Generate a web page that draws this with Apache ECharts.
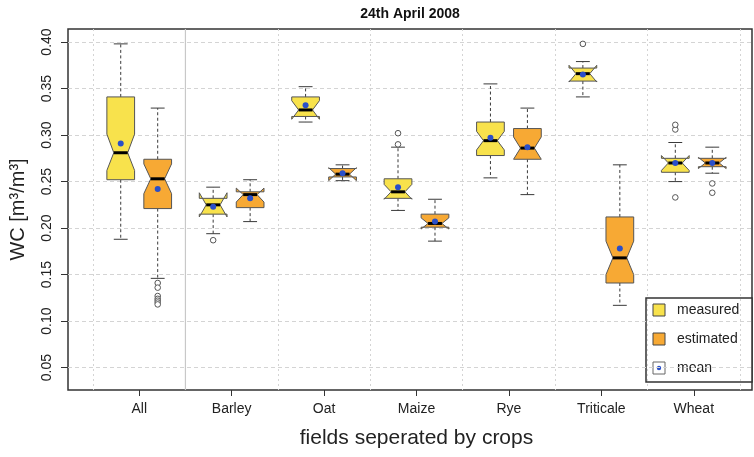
<!DOCTYPE html>
<html>
<head>
<meta charset="utf-8">
<script src="https://cdn.jsdelivr.net/npm/echarts@6/dist/echarts.min.js"></script>
<style>
  html, body { margin: 0; padding: 0; background: #fff; }
  #chart { width: 754px; height: 457px; }
</style>
</head>
<body>
<div id="chart"></div>
<script>
const categories = ['All', 'Barley', 'Oat', 'Maize', 'Rye', 'Triticale', 'Wheat']
const yTicks = [0.05, 0.10, 0.15, 0.20, 0.25, 0.30, 0.35, 0.40]

// [lower whisker, q1, median, q3, upper whisker]
const measuredBox = [
  [0.188, 0.252, 0.281, 0.341, 0.398],
  [0.194, 0.215, 0.225, 0.232, 0.244],
  [0.314, 0.320, 0.327, 0.341, 0.352],
  [0.219, 0.232, 0.239, 0.253, 0.287],
  [0.254, 0.278, 0.294, 0.314, 0.355],
  [0.341, 0.358, 0.366, 0.372, 0.379],
  [0.250, 0.260, 0.270, 0.275, 0.292]
]
const measuredNotch = [
  [0.262, 0.301], [0.212, 0.238], [0.317, 0.337], [0.231, 0.247],
  [0.284, 0.304], [0.357, 0.375], [0.262, 0.278]
]
const measuredMean = [0.291, 0.223, 0.332, 0.244, 0.297, 0.365, 0.270]
const measuredOutliers = [
  [1, 0.187], [3, 0.290], [3, 0.302], [5, 0.398], [6, 0.306], [6, 0.311], [6, 0.233]
]

const estimatedBox = [
  [0.146, 0.221, 0.253, 0.274, 0.329],
  [0.207, 0.222, 0.236, 0.239, 0.252],
  [0.251, 0.255, 0.258, 0.264, 0.268],
  [0.186, 0.201, 0.205, 0.215, 0.231],
  [0.236, 0.274, 0.286, 0.307, 0.329],
  [0.117, 0.141, 0.168, 0.212, 0.268],
  [0.259, 0.266, 0.270, 0.275, 0.287]
]
const estimatedNotch = [
  [0.237, 0.269], [0.228, 0.243], [0.251, 0.265], [0.199, 0.211],
  [0.274, 0.298], [0.150, 0.186], [0.264, 0.276]
]
const estimatedMean = [0.242, 0.232, 0.259, 0.207, 0.287, 0.178, 0.270]
const estimatedOutliers = [
  [0, 0.141], [0, 0.136], [0, 0.127], [0, 0.124], [0, 0.122], [0, 0.120], [0, 0.118],
  [6, 0.248], [6, 0.238]
]

const colorMeasured = '#f8e24c'
const colorEstimated = '#f7a934'
const colorMean = '#2a4fc9'
const fontFamily = '"Liberation Sans", Arial, sans-serif'

const boxData = (box, notch, mean) => box.map((b, i) => [i, ...b, notch[i][0], notch[i][1], mean[i]])

// notched box as drawn by R's bxp
function boxRenderer(offset, fill) {
  return function (params, api) {
    const idx = api.value(0)
    const band = api.size([1, 0])[0]
    const cx = api.coord([idx, 0])[0] + offset * band
    const w = band * 0.15
    const y = v => api.coord([idx, v])[1]
    const lo = y(api.value(1)), q1 = y(api.value(2)), md = y(api.value(3))
    const q3 = y(api.value(4)), hi = y(api.value(5))
    const nl = y(api.value(6)), nh = y(api.value(7)), mn = y(api.value(8))
    const dash = { stroke: '#3a3a3a', lineWidth: 1, lineDash: [3, 2.5] }
    const solid = { stroke: '#3a3a3a', lineWidth: 1 }
    return {
      type: 'group',
      children: [
        { type: 'line', shape: { x1: cx, y1: q3, x2: cx, y2: hi }, style: dash },
        { type: 'line', shape: { x1: cx, y1: q1, x2: cx, y2: lo }, style: dash },
        { type: 'line', shape: { x1: cx - w / 2, y1: hi, x2: cx + w / 2, y2: hi }, style: solid },
        { type: 'line', shape: { x1: cx - w / 2, y1: lo, x2: cx + w / 2, y2: lo }, style: solid },
        {
          type: 'polygon',
          shape: {
            points: [
              [cx - w, q1], [cx + w, q1], [cx + w, nl], [cx + w / 2, md], [cx + w, nh],
              [cx + w, q3], [cx - w, q3], [cx - w, nh], [cx - w / 2, md], [cx - w, nl]
            ]
          },
          style: { fill: fill, stroke: '#555', lineWidth: 1 }
        },
        { type: 'line', shape: { x1: cx - w / 2, y1: md, x2: cx + w / 2, y2: md }, style: { stroke: '#000', lineWidth: 3 } },
        { type: 'circle', shape: { cx: cx, cy: mn, r: 3 }, style: { fill: colorMean } }
      ]
    }
  }
}

function outlierRenderer(offset) {
  return function (params, api) {
    const idx = api.value(0)
    const band = api.size([1, 0])[0]
    const p = api.coord([idx, api.value(1)])
    return {
      type: 'circle',
      shape: { cx: p[0] + offset * band, cy: p[1], r: 2.8 },
      style: { fill: '#fff', stroke: '#555', lineWidth: 1 }
    }
  }
}

const chart = echarts.init(document.getElementById('chart'))
const option = {
  animation: false,
  grid: [
    { left: 68, right: 2, top: 29, bottom: 67, show: true, borderColor: '#333', borderWidth: 1.5, backgroundColor: 'transparent' },
    { left: 93, right: 14, top: 29, bottom: 67 }
  ],
  xAxis: [
    { gridIndex: 0, type: 'value', min: 0, max: 1, show: false },
    {
      gridIndex: 1,
      type: 'category',
      data: categories,
      boundaryGap: true,
      name: 'fields seperated by crops',
      nameLocation: 'middle',
      nameGap: 38,
      nameTextStyle: { fontSize: 21, color: '#222', fontFamily },
      axisLine: { show: false },
      axisTick: { show: true, alignWithLabel: true, length: 6, lineStyle: { color: '#333' } },
      axisLabel: { fontSize: 14, color: '#222', margin: 12, fontFamily },
      splitLine: { show: true, lineStyle: { color: '#d4d4d4', type: [2, 3] } }
    }
  ],
  yAxis: [
    {
      gridIndex: 0,
      type: 'value',
      min: 0.026,
      max: 0.414,
      name: 'WC [m³/m³]',
      nameLocation: 'middle',
      nameGap: 40,
      nameTextStyle: { fontSize: 20, color: '#222', fontFamily },
      axisLine: { show: false },
      axisTick: { show: true, length: 7, customValues: yTicks, lineStyle: { color: '#333' } },
      axisLabel: {
        rotate: 90, fontSize: 14, color: '#222', margin: 14, fontFamily,
        customValues: yTicks,
        formatter: v => v.toFixed(2)
      },
      splitLine: { show: true, lineStyle: { color: '#d4d4d4', type: [4, 3] } }
    },
    { gridIndex: 1, type: 'value', min: 0.026, max: 0.414, show: false }
  ],
  series: [
    {
      // solid line separating "All" from the single crops
      type: 'custom',
      xAxisIndex: 1, yAxisIndex: 1,
      data: [[0]],
      renderItem: (params, api) => {
        const band = api.size([1, 0])[0]
        const x = api.coord([0, 0.2])[0] + band / 2
        return {
          type: 'line',
          shape: { x1: x, y1: params.coordSys.y, x2: x, y2: params.coordSys.y + params.coordSys.height },
          style: { stroke: '#c8c8c8', lineWidth: 1.2 }
        }
      },
      z: 1
    },
    {
      name: 'measured',
      type: 'custom',
      xAxisIndex: 1, yAxisIndex: 1,
      data: boxData(measuredBox, measuredNotch, measuredMean),
      renderItem: boxRenderer(-0.2, colorMeasured),
      z: 3
    },
    {
      name: 'estimated',
      type: 'custom',
      xAxisIndex: 1, yAxisIndex: 1,
      data: boxData(estimatedBox, estimatedNotch, estimatedMean),
      renderItem: boxRenderer(0.2, colorEstimated),
      z: 3
    },
    {
      type: 'custom',
      xAxisIndex: 1, yAxisIndex: 1,
      data: measuredOutliers,
      renderItem: outlierRenderer(-0.2),
      z: 3
    },
    {
      type: 'custom',
      xAxisIndex: 1, yAxisIndex: 1,
      data: estimatedOutliers,
      renderItem: outlierRenderer(0.2),
      z: 3
    }
  ],
  graphic: [
    {
      type: 'text', x: 410, y: 14, z: 10,
      style: { text: '24th April 2008', fill: '#111', font: 'bold 14px ' + fontFamily, align: 'center', verticalAlign: 'middle' }
    },
    {
      type: 'group', x: 646, y: 298, z: 10,
      children: [
        { type: 'rect', shape: { x: 0, y: 0, width: 106, height: 84 }, style: { fill: '#fff', stroke: '#333', lineWidth: 1.5 } },
        { type: 'rect', shape: { x: 7, y: 6, width: 12, height: 12 }, style: { fill: colorMeasured, stroke: '#444', lineWidth: 1 } },
        { type: 'text', x: 31, y: 12, style: { text: 'measured', fill: '#222', font: '14px ' + fontFamily, verticalAlign: 'middle' } },
        { type: 'rect', shape: { x: 7, y: 35, width: 12, height: 12 }, style: { fill: colorEstimated, stroke: '#444', lineWidth: 1 } },
        { type: 'text', x: 31, y: 41, style: { text: 'estimated', fill: '#222', font: '14px ' + fontFamily, verticalAlign: 'middle' } },
        { type: 'rect', shape: { x: 7, y: 64, width: 12, height: 12 }, style: { fill: '#fff', stroke: '#666', lineWidth: 1 } },
        { type: 'circle', shape: { cx: 13, cy: 70, r: 2.2 }, style: { fill: colorMean } },
        { type: 'text', x: 31, y: 70, style: { text: 'mean', fill: '#222', font: '14px ' + fontFamily, verticalAlign: 'middle' } }
      ]
    }
  ]
}
chart.setOption(option)
</script>
</body>
</html>
